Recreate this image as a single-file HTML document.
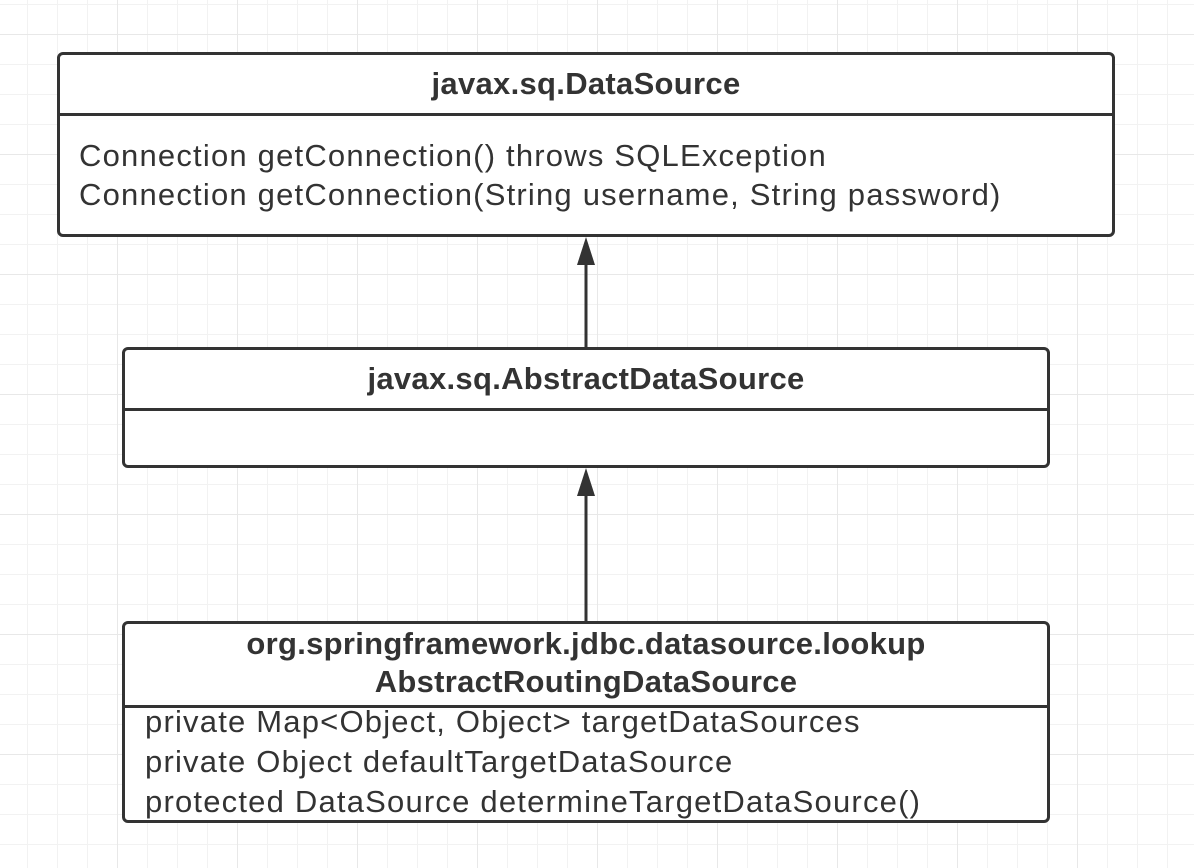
<!DOCTYPE html>
<html><head><style>
body{margin:0;width:1194px;height:868px;overflow:hidden;font-family:"Liberation Sans","Noto Sans CJK SC",sans-serif;color:#333;
background-color:#fff;
background-image:linear-gradient(#e8e8e8 1px,transparent 1px),linear-gradient(90deg,#e8e8e8 1px,transparent 1px),linear-gradient(#f2f2f2 1px,transparent 1px),linear-gradient(90deg,#f2f2f2 1px,transparent 1px);
background-size:120px 120px,120px 120px,30px 30px,30px 30px;
background-position:117px 34px,117px 34px,27px 4px,27px 4px;}
.b{position:absolute;border:3px solid #333;border-radius:6px;background:#fff;box-sizing:border-box}
.h{font-weight:bold;text-align:center;font-size:31px;letter-spacing:0.3px;border-bottom:3px solid #333;box-sizing:border-box;white-space:nowrap}
.t{font-size:31px;letter-spacing:1.2px;line-height:39px;white-space:nowrap}
</style></head><body>
<div class="b" style="left:57px;top:52px;width:1058px;height:185px">
<div class="h" style="height:61px;line-height:58px">javax.sq.DataSource</div>
<div class="t" style="padding:20px 0 0 19px">Connection getConnection() throws SQLException<br>Connection getConnection(String username, String password)</div>
</div>
<div class="b" style="left:122px;top:347px;width:928px;height:121px">
<div class="h" style="height:61px;line-height:58px">javax.sq.AbstractDataSource</div>
</div>
<div class="b" style="left:122px;top:621px;width:928px;height:202px">
<div class="h" style="height:84px;line-height:38px;padding-top:1px">org.springframework.jdbc.datasource.lookup<br>AbstractRoutingDataSource</div>
<div class="t" style="padding:0 0 0 20px;line-height:40px;margin-top:-6px">private Map&lt;Object, Object&gt; targetDataSources<br>private Object defaultTargetDataSource<br>protected DataSource determineTargetDataSource()</div>
</div>
<svg width="1194" height="868" style="position:absolute;left:0;top:0">
<line x1="586" y1="262" x2="586" y2="347" stroke="#333" stroke-width="3"/>
<polygon points="586,237 577,265 595,265" fill="#333"/>
<line x1="586" y1="494" x2="586" y2="621" stroke="#333" stroke-width="3"/>
<polygon points="586,468 577,496 595,496" fill="#333"/>
</svg>
</body></html>
